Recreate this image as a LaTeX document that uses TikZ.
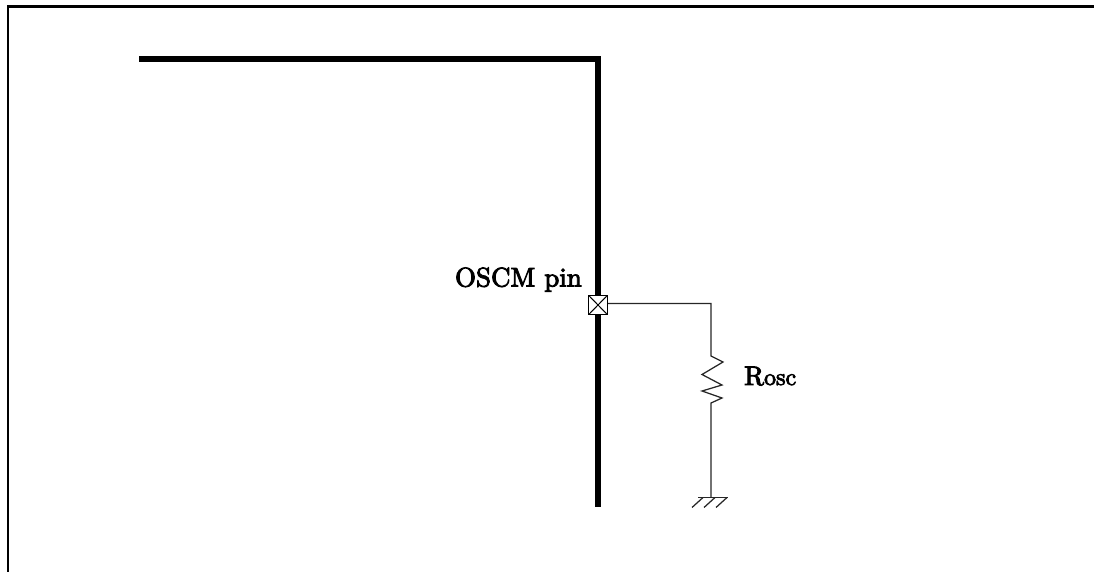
\documentclass[tikz,border=0pt]{standalone}
\usepackage{fontspec}
\newfontfamily\labfont{lmroman10-regular.otf}[FakeBold=3.5]
\tikzset{
  framerule/.style={line width=2.2pt,black},
  busline/.style={line width=6pt,black},
  wire/.style={line width=1.25pt,black!85},
  pinbox/.style={draw,line width=1.25pt,fill=white,minimum width=19pt,minimum height=19.5pt,inner sep=0pt,path picture={
    \draw[line width=1pt] (path picture bounding box.north west)--(path picture bounding box.south east)
      (path picture bounding box.north east)--(path picture bounding box.south west);}},
  lab/.style={inner sep=0pt,font=\labfont\fontsize{27}{29}\selectfont}
}
\begin{document}
\begin{tikzpicture}[x=1pt,y=-1pt]
\useasboundingbox (0,0) rectangle (1094,572);
\coordinate (fa) at (8,572);
\coordinate (fb) at (8,6.5);
\coordinate (fc) at (1094,6.5);
\draw[framerule] (fa) -- (fb) -- (fc);
\coordinate (ba) at (139,59);
\coordinate (bb) at (598,59);
\coordinate (bc) at (598,507);
\draw[busline,line join=miter] (ba) -- (bb) -- (bc);
\node[pinbox] (pin) at (598,305) {};
\coordinate (ca) at (711,303.5);
\coordinate (ra) at (711,356);
\coordinate (rb) at (711,403);
\coordinate (gnd) at (711,497.5);
\draw[wire] (pin.east |- ca) -- (ca) -- (ra) -- (723,362) -- (702,374.5) -- (722,385) -- (702,391) -- (722,398) -- (rb) -- (gnd);
\coordinate (ga) at (698,497.5);
\coordinate (gb) at (728,497.5);
\draw[wire] (ga) -- (gb);
\draw[wire] (703,497.5) -- (692,507.5) (715,497.5) -- (704,507.5) (727,497.5) -- (716,507.5);
\node[lab,anchor=base east] (pinlabel) at (582,286.5) {OSCM pin};
\node[lab,anchor=base west] (rlabel) at (744,385) {R{\fontsize{24}{26}\selectfont osc}};
\end{tikzpicture}
\end{document}
